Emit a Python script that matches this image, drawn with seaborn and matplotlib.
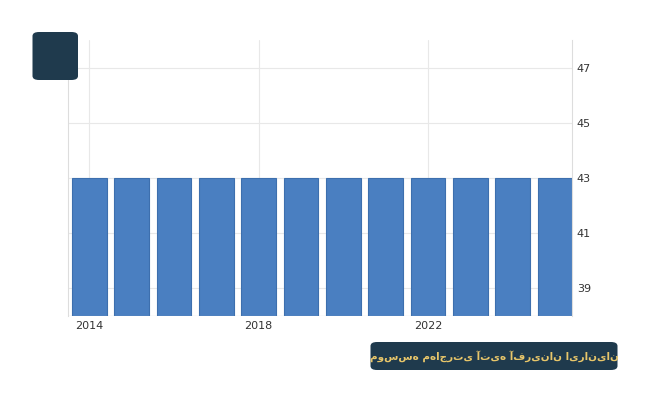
import matplotlib
matplotlib.use("Agg")
import matplotlib.pyplot as plt
import seaborn as sns
import pandas as pd
from matplotlib.patches import FancyBboxPatch

years = list(range(2014, 2026))
values = [43] * 12
yticks = [39, 41, 43, 45, 47]
xticks = [2014, 2018, 2022]
banner = "موسسه مهاجرتی آتیه آفرینان ایرانیان"

sns.set_style("white")
plt.rcParams['font.family'] = ['DejaVu Sans']
fig = plt.figure(figsize=(6.5, 4), dpi=100)
ax = fig.add_axes([0.105, 0.21, 0.775, 0.69])
df = pd.DataFrame({"year": years, "value": values})
sns.barplot(data=df, x="year", y="value", native_scale=True, color="#4a7fc1",
            edgecolor="#3d6fae", linewidth=0.8, width=0.82, saturation=1, ax=ax)
ax.set_xlim(2013.5, 2025.4)
ax.set_ylim(38, 48)
ax.yaxis.tick_right()
ax.set_yticks(yticks)
ax.set_xticks(xticks)
ax.tick_params(labelsize=8, colors="#333333", length=0)
ax.set_xlabel(""); ax.set_ylabel("")
ax.grid(True, color="#e8e8e8", linewidth=0.8)
ax.set_axisbelow(True)
for s in ["top", "bottom"]:
    ax.spines[s].set_visible(False)
for s in ["left", "right"]:
    ax.spines[s].set_color("#dddddd")
ax.axhline(38, color="#aaaaaa", linewidth=0.8)

fig.patches.append(FancyBboxPatch((0.05, 0.80), 0.07, 0.12, boxstyle="round,pad=0,rounding_size=0.01",
                                  transform=fig.transFigure, facecolor="#1f3a4d", edgecolor="none"))
fig.patches.append(FancyBboxPatch((0.57, 0.075), 0.38, 0.07, boxstyle="round,pad=0,rounding_size=0.01",
                                  transform=fig.transFigure, facecolor="#1f3a4d", edgecolor="none"))
fig.text(0.76, 0.11, banner, color="#e8c66a", fontsize=7.5, fontweight="bold",
         ha="center", va="center")
fig.savefig("out.png", dpi=100)
